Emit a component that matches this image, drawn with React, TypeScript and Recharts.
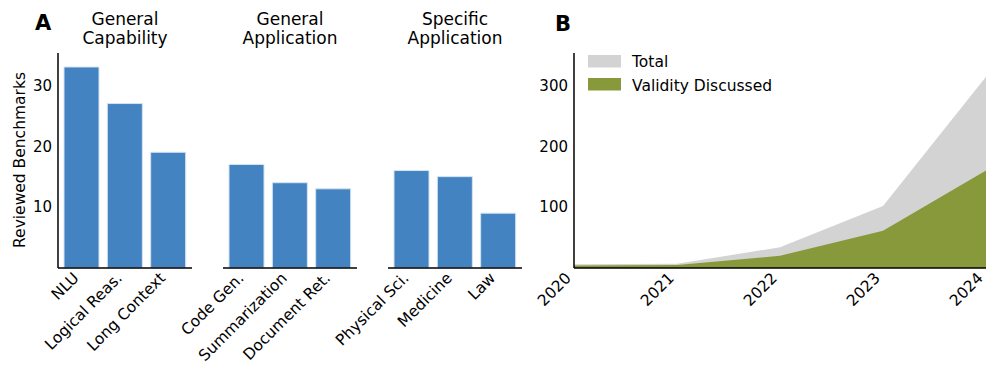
import { BarChart, Bar, XAxis, YAxis, AreaChart, Area } from 'recharts'

const FONT = '"DejaVu Sans", sans-serif'

// panel A
const capabilityCats = ['NLU', 'Logical Reas.', 'Long Context']
const capabilityCounts = [33, 27, 19]
const generalAppCats = ['Code Gen.', 'Summarization', 'Document Ret.']
const generalAppCounts = [17, 14, 13]
const specificAppCats = ['Physical Sci.', 'Medicine', 'Law']
const specificAppCounts = [16, 15, 9]
const barTicks = [10, 20, 30]

// panel B
const years = [2020, 2021, 2022, 2023, 2024]
const totalCounts = [6, 7, 34, 102, 314]
const validityCounts = [4, 5, 20, 61, 160]
const areaTicks = [100, 200, 300]

const BLUE = '#4383c1'
const GREY = '#d3d3d3'
const OLIVE = '#88993b'

const RotTick = (props: any) => {
  const { x, y, payload } = props
  const px = x - 2
  const py = y + 11
  return (
    <text
      x={px}
      y={py}
      transform={`rotate(-45, ${px}, ${py})`}
      textAnchor="end"
      fontSize={15.5}
      fontFamily={FONT}
      fill="#000"
    >
      {payload.value}
    </text>
  )
}

function Group({
  cats,
  counts,
  left,
  showY,
}: {
  cats: string[]
  counts: number[]
  left: number
  showY: boolean
}) {
  const data = cats.map((c, i) => ({ name: c, value: counts[i] }))
  return (
    <div style={{ position: 'absolute', left, top: 0 }}>
      <BarChart
        width={200}
        height={381}
        data={data}
        margin={{ top: 53, right: showY ? 8 : 6, left: showY ? 0 : 60, bottom: 0 }}
        style={{ overflow: 'visible' }}
      >
        <XAxis
          dataKey="name"
          height={113}
          tick={<RotTick />}
          tickLine={false}
          tickSize={0}
          tickMargin={0}
          interval={0}
          padding={{ left: 2, right: 2 }}
          axisLine={{ stroke: '#000', strokeWidth: 1.5 }}
        />
        <YAxis
          hide={!showY}
          width={58}
          domain={[0, 35.3]}
          ticks={barTicks}
          tickLine={false}
          tickSize={0}
          tickMargin={6}
          axisLine={{ stroke: '#000', strokeWidth: 1.5 }}
          tick={{ fill: '#000', fontSize: 15, fontFamily: FONT }}
        />
        <Bar
          dataKey="value"
          fill={BLUE}
          stroke="#d4e3f1"
          strokeWidth={1}
          barSize={35}
          isAnimationActive={false}
        />
      </BarChart>
    </div>
  )
}

export default function App() {
  const areaData = years.map((y, i) => ({
    year: y,
    total: totalCounts[i],
    validity: validityCounts[i],
  }))

  return (
    <div
      style={{
        position: 'absolute',
        left: 0,
        top: 0,
        width: 997,
        height: 381,
        background: '#fff',
        fontFamily: FONT,
      }}
    >
      <Group cats={capabilityCats} counts={capabilityCounts} left={0} showY />
      <Group cats={generalAppCats} counts={generalAppCounts} left={163} showY={false} />
      <Group cats={specificAppCats} counts={specificAppCounts} left={328} showY={false} />

      <div style={{ position: 'absolute', left: 500, top: 0 }}>
        <AreaChart
          width={497}
          height={381}
          data={areaData}
          margin={{ top: 53, right: 11, left: 0, bottom: 0 }}
          style={{ overflow: 'visible' }}
        >
          <XAxis
            dataKey="year"
            type="number"
            domain={[2020, 2024]}
            ticks={years}
            height={113}
            tick={<RotTick />}
            tickLine={false}
            tickSize={0}
            tickMargin={0}
            interval={0}
            axisLine={{ stroke: '#000', strokeWidth: 1.5 }}
          />
          <YAxis
            width={74}
            domain={[0, 353]}
            ticks={areaTicks}
            tickLine={false}
            tickSize={0}
            tickMargin={6}
            axisLine={{ stroke: '#000', strokeWidth: 1.5 }}
            tick={{ fill: '#000', fontSize: 15, fontFamily: FONT }}
          />
          <Area
            type="linear"
            dataKey="total"
            fill={GREY}
            fillOpacity={1}
            stroke="none"
            isAnimationActive={false}
          />
          <Area
            type="linear"
            dataKey="validity"
            fill={OLIVE}
            fillOpacity={1}
            stroke="none"
            isAnimationActive={false}
          />
        </AreaChart>
      </div>

      {/* titles, panel letters, axis label, legend */}
      <svg
        width={997}
        height={381}
        style={{ position: 'absolute', left: 0, top: 0, pointerEvents: 'none' }}
        fontFamily={FONT}
      >
        <text x={35} y={30} fontSize={21} fontWeight="bold">A</text>
        <text x={555} y={31} fontSize={21} fontWeight="bold">B</text>

        <text textAnchor="middle" fontSize={17}>
          <tspan x={125} y={25}>General</tspan>
          <tspan x={125} y={44}>Capability</tspan>
        </text>
        <text textAnchor="middle" fontSize={17}>
          <tspan x={290} y={25}>General</tspan>
          <tspan x={290} y={44}>Application</tspan>
        </text>
        <text textAnchor="middle" fontSize={17}>
          <tspan x={455} y={25}>Specific</tspan>
          <tspan x={455} y={44}>Application</tspan>
        </text>

        <text
          x={25}
          y={160}
          textAnchor="middle"
          fontSize={15.5}
          transform="rotate(-90, 25, 160)"
        >
          Reviewed Benchmarks
        </text>

        <rect x={588} y={55} width={33} height={12.5} fill={GREY} />
        <text x={632} y={67} fontSize={15.5}>Total</text>
        <rect x={588} y={78} width={33} height={12.5} fill={OLIVE} />
        <text x={632} y={90.5} fontSize={15.5}>Validity Discussed</text>
      </svg>
    </div>
  )
}
